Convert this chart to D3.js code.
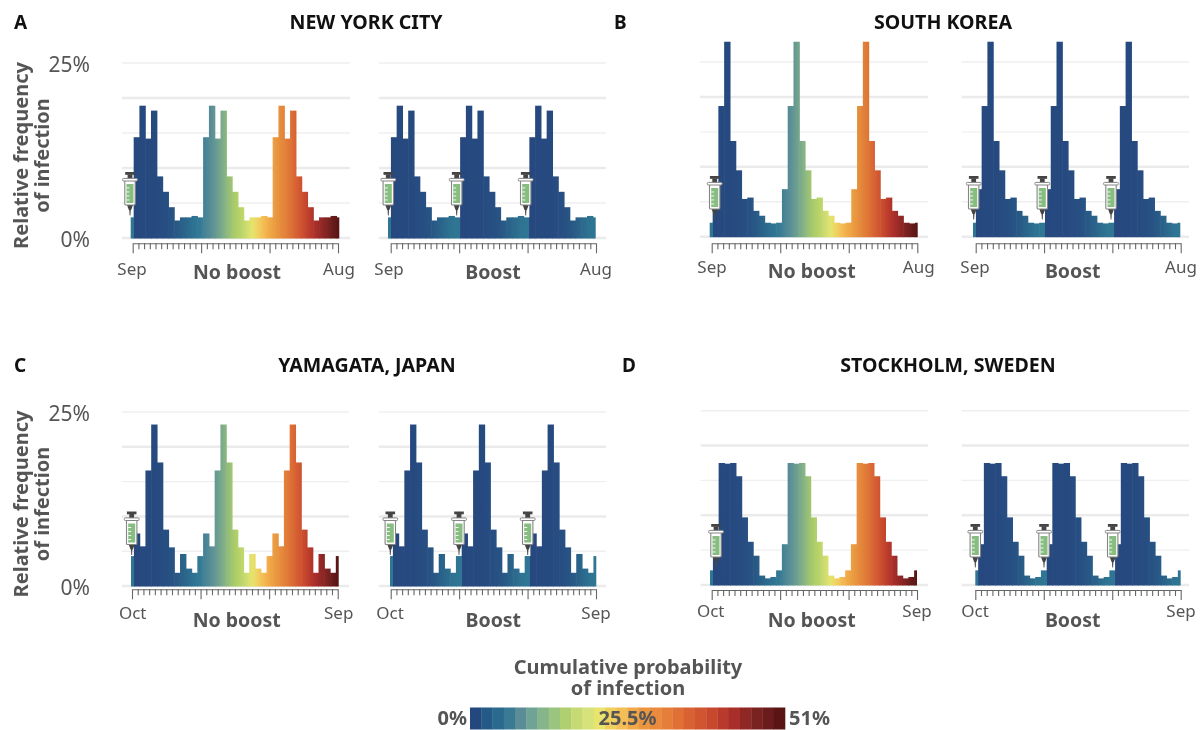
<!DOCTYPE html>
<html><head><meta charset="utf-8">
<script src="https://cdn.jsdelivr.net/npm/d3@7"></script>
<style>html,body{margin:0;padding:0;background:#fff}svg{display:block;filter:blur(0.3px)}text{font-family:"Noto Sans",sans-serif}</style>
</head><body><div id="chart"></div>
<script>
// ---- data ----
const monthsNYC = [2.95,14.4,18.9,14.2,18.2,8.8,6.6,4.4,2.5,2.95,2.95,3.15];
const monthsKorea = [2.0,6.8,18.7,27.9,13.7,9.5,5.4,5.6,3.7,3.0,2.0,1.9];
const monthsYamagata = [4.3,7.55,5.7,16.6,23.2,17.75,8.1,5.55,1.9,4.6,2.5,1.9];
const monthsStockholm = [2.1,5.85,17.5,17.4,17.5,15.6,9.7,6.2,4.2,1.35,0.95,1.15];
const yTicks = [0,5,10,15,20,25];
const yTickLabels = {0:"0%",25:"25%"};
const panelTitles = ["NEW YORK CITY","SOUTH KOREA","YAMAGATA, JAPAN","STOCKHOLM, SWEDEN"];
const panelLetters = ["A","B","C","D"];
const startMonths = ["Sep","Sep","Oct","Oct"];
const endMonths = ["Aug","Aug","Sep","Sep"];
const scenarioNames = ["No boost","Boost"];
const legendLabels = ["0%","25.5%","51%"];
// colour at each month of the 3 year run (no boost)
const rampColors = ["#2f7694","#26487f","#26497f","#26497f","#264a80","#274c81","#274e82","#275283","#285986","#2a6289","#2c6b8e","#2e7492","#337a95","#4a8496","#5b8f96","#6c9e90","#80ae88","#97bf78","#aacd68","#b9d46a","#cfdc70","#e4e46c","#f0d060","#f4ba52","#f0a848","#ea9a40","#e58a3c","#e07c38","#db6b35","#d35a31","#c84a2e","#b93a2c","#a82e2a","#922826","#7d2321","#661b1b","#571313"];
const legendColors = ["#24477f","#245a87","#2b6a8f","#3a7a94","#5a8d96","#6fa393","#86b58c","#9bc47f","#b0d070","#c6da74","#d8e27a","#e8e46e","#efd05c","#f4bd55","#f0a848","#ec9640","#e98a3c","#e57e38","#e07035","#d96233","#d05530","#c8482e","#b9392c","#a82e2a","#8f2725","#7a2220","#6a1c1c","#5a1414"];

const monthly = [monthsNYC,monthsKorea,monthsYamagata,monthsStockholm];

// ---- layout ----
const layout = [
 {base:238,top:63,axisY:243.3,labY:275,nameY:279,letterX:14,titleX:366,headY:29,
  subs:[{bars:[130.7,339.3],ticks:[132.7,338],grid:[122,350],lab:[132,339],name:237,syr:[130]},
        {bars:[388,595.7],ticks:[390.7,596],grid:[378.7,606],lab:[389,596],name:493,syr:[388.3,456.7,525.7]}],syrTop:172,ylab:true},
 {base:236.7,top:62,axisY:243.3,labY:273,nameY:278,letterX:614,titleX:943,headY:29,
  subs:[{bars:[709.7,917.7],ticks:[711.7,917.3],grid:[700,928],lab:[712,918.7],name:811.7,syr:[714.7]},
        {bars:[973,1180.3],ticks:[975.7,1180.7],grid:[961.7,1189],lab:[975,1181],name:1072.7,syr:[973.7,1042.3,1111]}],syrTop:176},
 {base:586,top:412,axisY:589.3,labY:619,nameY:627,letterX:14,titleX:367,headY:372,
  subs:[{bars:[131,338.7],ticks:[132,337.7],grid:[122,349],lab:[132.7,338.7],name:236.7,syr:[131.7]},
        {bars:[390,596.3],ticks:[390.7,596],grid:[378.7,606],lab:[390,596],name:493.3,syr:[390.3,459,527.7]}],syrTop:511.5,ylab:true},
 {base:585,top:410.7,axisY:590,labY:617,nameY:627,letterX:622,titleX:948,headY:372,
  subs:[{bars:[710,917],ticks:[711.7,917],grid:[700.7,928],lab:[710.7,917],name:811.7,syr:[716]},
        {bars:[975.3,1180.7],ticks:[975.3,1180.7],grid:[961.7,1189],lab:[975,1181],name:1072.7,syr:[975.3,1044,1112.7]}],syrTop:524}
];

const W=1201,H=730,grey="#555555";
const svg=d3.select("#chart").append("svg").attr("width",W).attr("height",H).attr("viewBox",[0,0,W,H]);
const defs=svg.append("defs");

function syringe(g,cx,t){
  const s=g.append("g").attr("transform",`translate(${cx},${t})`);
  s.append("path").attr("d","M-0.9,35 L0.9,35 L0.4,43.5 L-0.4,43.5 Z").attr("fill","#4a4a4a");
  s.append("path").attr("d","M-3.2,32.5 L3.2,32.5 L1.1,38 L-1.1,38 Z").attr("fill","#444");
  s.append("rect").attr("x",-4.8).attr("y",0).attr("width",9.6).attr("height",2.8).attr("fill","#444");
  s.append("rect").attr("x",-2.4).attr("y",2.4).attr("width",4.8).attr("height",4.5).attr("fill","#444");
  s.append("rect").attr("x",-5.2).attr("y",8).attr("width",10.4).attr("height",25).attr("rx",1).attr("fill","#fff").attr("stroke","#858585").attr("stroke-width",1.1);
  s.append("rect").attr("x",-7.4).attr("y",6.4).attr("width",14.8).attr("height",2.6).attr("rx",1).attr("fill","#fff").attr("stroke","#858585").attr("stroke-width",1);
  s.append("rect").attr("x",-3.5).attr("y",12).attr("width",7).attr("height",19).attr("fill","#87bd80");
  [15.5,19.5,23.5,27.5].forEach(y=>s.append("rect").attr("x",-3.5).attr("y",y).attr("width",3).attr("height",0.9).attr("fill","#fff"));
}

layout.forEach((p,pi)=>{
  const g=svg.append("g");
  const y=d3.scaleLinear().domain([0,25]).range([p.base,p.top]);
  g.append("text").attr("x",p.letterX).attr("y",p.headY).attr("font-size",19).attr("font-weight",700).attr("fill","#111").text(panelLetters[pi]);
  g.append("text").attr("x",p.titleX).attr("y",p.headY).attr("text-anchor","middle").attr("font-size",19.6).attr("font-weight",700).attr("fill","#111").text(panelTitles[pi]);
  if(p.ylab){
    const mid=p.base-(p.base-p.top)/2+5;
    ["Relative frequency","of infection"].forEach((t,i)=>{
      g.append("text").attr("transform",`translate(${28+i*21},${mid}) rotate(-90)`).attr("text-anchor","middle").attr("font-size",20).attr("font-weight",700).attr("fill",grey).text(t);
    });
    [25,0].forEach(v=>g.append("text").attr("x",90).attr("y",y(v)+8.5).attr("text-anchor","end").attr("font-size",21).attr("fill",grey).text(yTickLabels[v]));
  }
  p.subs.forEach((s,si)=>{
    const sg=g.append("g");
    // grid
    sg.selectAll("line.grid").data(yTicks).join("line").attr("class","grid")
      .attr("x1",s.grid[0]).attr("x2",s.grid[1]).attr("y1",d=>y(d)).attr("y2",d=>y(d))
      .attr("stroke",d=>d%10===0?"#ebebeb":"#efefef").attr("stroke-width",d=>d%10===0?2.5:1.4);
    // bars
    const x=d3.scaleLinear().domain([0,36]).range(s.bars);
    const vals=d3.range(37).map(k=>({k,v:monthly[pi][k%12]}));
    const colorOf=k=> si===0?rampColors[k]:(k%12===0?rampColors[0]:rampColors[k%12]);
    const isReset=k=> si===0?k===0:k%12===0;
    const id=`grad${pi}_${si}`;
    const grad=defs.append("linearGradient").attr("id",id).attr("gradientUnits","userSpaceOnUse")
      .attr("x1",s.bars[0]).attr("x2",s.bars[1]).attr("y1",0).attr("y2",0);
    const off=k=>(k/36*100)+"%";
    d3.range(37).forEach(k=>{
      grad.append("stop").attr("offset",off(k)).attr("stop-color",colorOf(k));
      if(isReset(k)&&k<36){
        grad.append("stop").attr("offset",off(k+0.5)).attr("stop-color",colorOf(k));
        grad.append("stop").attr("offset",off(k+0.5)).attr("stop-color",colorOf(k+1));
      }
    });
    sg.selectAll("rect.bar").data(vals).join("rect").attr("class","bar")
      .attr("x",d=>x(Math.max(0,d.k-0.5)))
      .attr("width",d=>x(Math.min(36,d.k+0.5))-x(Math.max(0,d.k-0.5))+(d.k<36?0.6:0))
      .attr("y",d=>y(d.v)).attr("height",d=>p.base-y(d.v)+0.5)
      .attr("fill",`url(#${id})`);
    // axis
    const tx=d3.scaleLinear().domain([0,36]).range(s.ticks);
    const ax=d3.axisBottom(tx).tickValues(d3.range(37)).tickSizeOuter(0).tickSizeInner(6).tickFormat("");
    const ag=sg.append("g").attr("transform",`translate(0,${p.axisY})`).call(ax);
    ag.select(".domain").attr("stroke","#666").attr("stroke-width",1.1);
    ag.selectAll(".tick line").attr("stroke","#666").attr("stroke-width",1.1)
      .attr("y2",d=>d%12===0?10:6);
    ag.selectAll(".tick text").remove();
    // labels
    sg.append("text").attr("x",s.lab[0]).attr("y",p.labY).attr("text-anchor","middle").attr("font-size",17).attr("fill",grey).text(startMonths[pi]);
    sg.append("text").attr("x",s.lab[1]).attr("y",p.labY).attr("text-anchor","middle").attr("font-size",17).attr("fill",grey).text(endMonths[pi]);
    sg.append("text").attr("x",s.name).attr("y",p.nameY).attr("text-anchor","middle").attr("font-size",19.5).attr("font-weight",700).attr("fill",grey).text(scenarioNames[si]);
    s.syr.forEach(cx=>syringe(sg,cx,p.syrTop));
  });
});

// legend
const lg=svg.append("g");
const lx=d3.scaleBand().domain(d3.range(legendColors.length)).range([470,785]);
lg.selectAll("rect").data(legendColors).join("rect")
  .attr("x",(d,i)=>lx(i)).attr("width",lx.bandwidth()+0.3).attr("y",707.5).attr("height",22).attr("fill",d=>d);
const lt=lg.append("text").attr("text-anchor","middle").attr("font-size",20).attr("font-weight",700).attr("fill",grey);
["Cumulative probability","of infection"].forEach((t,i)=>lt.append("tspan").attr("x",628).attr("y",674+i*21).text(t));
lg.append("text").attr("x",467).attr("y",725).attr("text-anchor","end").attr("font-size",20).attr("font-weight",700).attr("fill",grey).text(legendLabels[0]);
lg.append("text").attr("x",627.5).attr("y",725).attr("text-anchor","middle").attr("font-size",20).attr("font-weight",700).attr("fill",grey).text(legendLabels[1]);
lg.append("text").attr("x",789).attr("y",725).attr("text-anchor","start").attr("font-size",20).attr("font-weight",700).attr("fill",grey).text(legendLabels[2]);
</script></body></html>
